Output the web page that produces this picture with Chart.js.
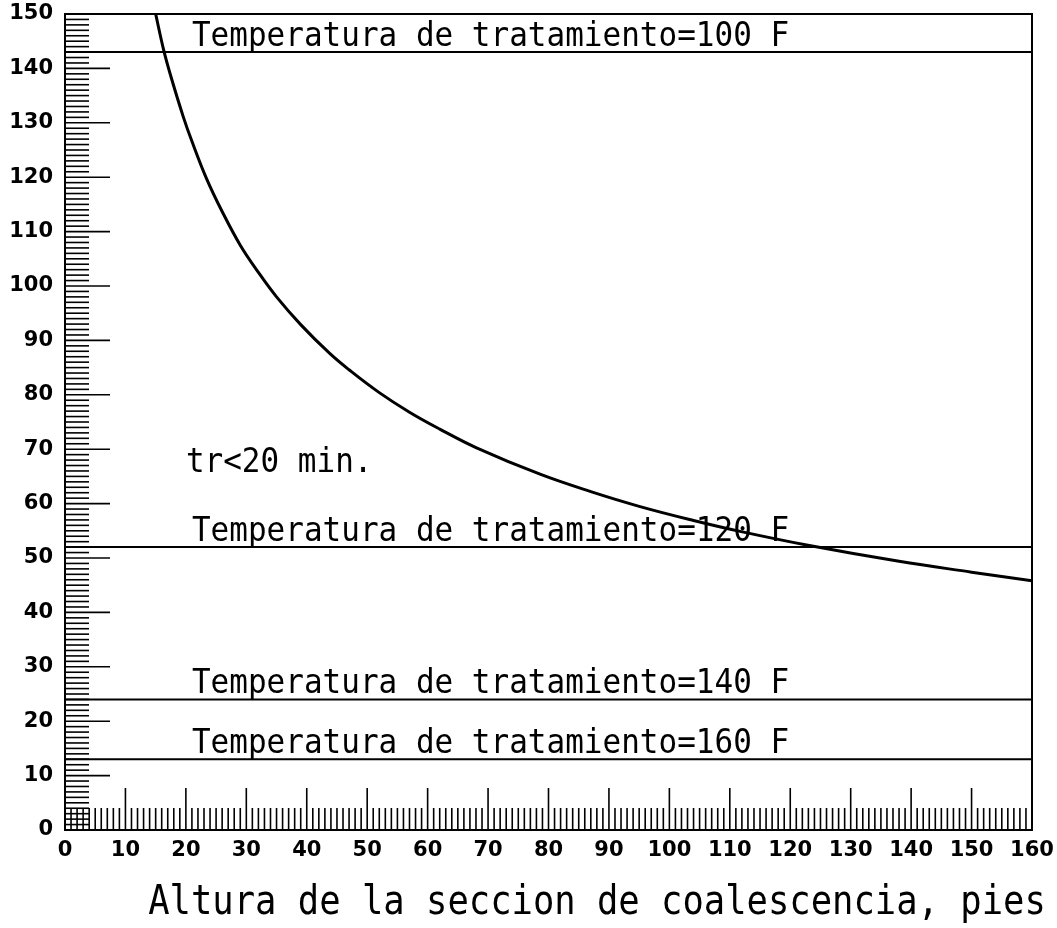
<!DOCTYPE html>
<html>
<head>
<meta charset="utf-8">
<script src="https://cdn.jsdelivr.net/npm/chart.js@4.4.0/dist/chart.umd.min.js"></script>
<style>
  body { margin: 0; background: #fff; }
  #wrap { width: 1057px; height: 928px; }
</style>
</head>
<body>
<div id="wrap"><canvas id="chartCoalescencia"></canvas></div>
<script>
// Curva tr = 20 min
const alturaX = [15, 16.3, 17.5, 19.6, 21, 23.4, 26, 29, 32, 35, 39, 43.8, 47, 52, 57, 62, 68, 78.6, 87, 95, 104, 111.7, 122.7, 138, 150, 160]
const curvaY = [150, 143.5, 138.6, 131, 126.6, 119.8, 113.7, 107.5, 102.5, 98.0, 92.9, 87.6, 84.6, 80.4, 76.8, 73.7, 70.3, 65.4, 62.2, 59.5, 56.9, 54.9, 52.4, 49.4, 47.4, 45.8]

// Lineas de temperatura
const tempValues = [143, 52, 24, 13]
const tempLabels = [
  'Temperatura de tratamiento=100 F',
  'Temperatura de tratamiento=120 F',
  'Temperatura de tratamiento=140 F',
  'Temperatura de tratamiento=160 F'
]
const notaLabel = 'tr<20 min.'

// Ejes
const xLimits = [0, 160]
const yLimits = [0, 150]
const xTitle = 'Altura de la seccion de coalescencia, pies'

const black = '#000'
const mono = '"DejaVu Sans Mono", monospace'

let datasets = [{
  data: alturaX.map((x, i) => ({x: x, y: curvaY[i]})),
  borderColor: black,
  borderWidth: 3,
  pointRadius: 0,
  showLine: true,
  tension: 0.4
}]
for (const t of tempValues) {
  datasets.push({
    data: [{x: xLimits[0], y: t}, {x: xLimits[1], y: t}],
    borderColor: black,
    borderWidth: 2,
    pointRadius: 0,
    showLine: true
  })
}

// texto estirado en vertical (letra de plotter)
const tallText = (ctx, text, px, py, sy) => {
  ctx.save()
  ctx.translate(px, py)
  ctx.scale(1, sy)
  ctx.fillText(text, 0, 0)
  ctx.restore()
}

// ticks del plotter, marco y textos
const plotterMarks = {
  id: 'plotterMarks',
  afterDraw(chart) {
    const ctx = chart.ctx
    const x = chart.scales.x
    const y = chart.scales.y
    const a = chart.chartArea
    ctx.save()
    ctx.strokeStyle = black
    ctx.lineWidth = 2
    ctx.strokeRect(a.left, a.top, a.right - a.left, a.bottom - a.top)

    ctx.lineWidth = 1.6
    for (let v = yLimits[0]; v < yLimits[1]; v++) {
      const py = y.getPixelForValue(v)
      const len = v % 10 === 0 ? 45 : 24
      ctx.beginPath()
      ctx.moveTo(a.left, py)
      ctx.lineTo(a.left + len, py)
      ctx.stroke()
    }
    for (let v = xLimits[0]; v < xLimits[1]; v++) {
      const px = x.getPixelForValue(v)
      const len = v % 10 === 0 ? 42 : 22
      ctx.beginPath()
      ctx.moveTo(px, a.bottom)
      ctx.lineTo(px, a.bottom - len)
      ctx.stroke()
    }

    ctx.fillStyle = black
    ctx.font = '31px ' + mono
    ctx.textBaseline = 'alphabetic'
    ctx.textAlign = 'left'
    tempValues.forEach((t, i) => {
      tallText(ctx, tempLabels[i], x.getPixelForValue(21), y.getPixelForValue(t) - 6, 1.08)
    })
    tallText(ctx, notaLabel, x.getPixelForValue(20), y.getPixelForValue(65.8), 1.08)

    // titulo del eje x
    ctx.font = '35.5px ' + mono
    ctx.textAlign = 'center'
    tallText(ctx, xTitle, 597, a.bottom + 84, 1.15)
    ctx.restore()
  }
}

const tickFont = {family: '"DejaVu Sans"', size: 21, weight: 'bold'}

const chartConfig = {
  type: 'scatter',
  data: { datasets: datasets },
  plugins: [plotterMarks],
  options: {
    responsive: true,
    maintainAspectRatio: false,
    animation: false,
    layout: { padding: {top: 14, right: 25, left: 0, bottom: 0} },
    plugins: {
      legend: { display: false },
      tooltip: { enabled: false }
    },
    scales: {
      x: {
        type: 'linear',
        min: xLimits[0],
        max: xLimits[1],
        grid: { display: false, drawTicks: false },
        border: { display: false },
        ticks: { stepSize: 10, color: black, font: tickFont, padding: 8, maxRotation: 0, autoSkip: false },
        afterFit: (s) => {
          s.height = 98
          s.paddingLeft = 0
          s.paddingRight = 0
        }
      },
      y: {
        type: 'linear',
        min: yLimits[0],
        max: yLimits[1],
        grid: { display: false, drawTicks: false },
        border: { display: false },
        ticks: { stepSize: 10, color: black, font: tickFont, padding: 12, autoSkip: false },
        afterFit: (s) => {
          s.width = 65
          s.paddingTop = 0
          s.paddingBottom = 0
        }
      }
    }
  }
}

window.onload = () => {
  new Chart(document.getElementById('chartCoalescencia'), chartConfig)
}
</script>
</body>
</html>
